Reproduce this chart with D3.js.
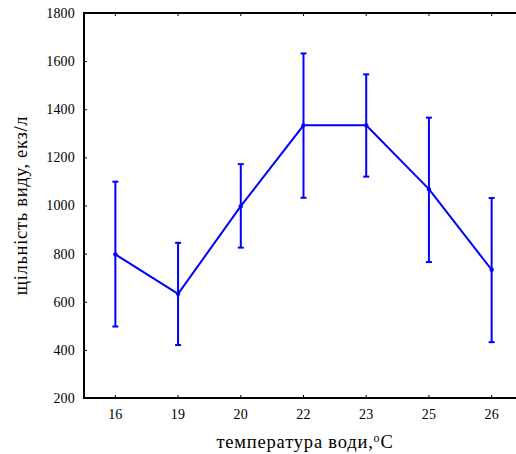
<!DOCTYPE html>
<html><head><meta charset="utf-8">
<script src="https://cdn.jsdelivr.net/npm/d3@7"></script>
<style>body{margin:0;background:#fff;overflow:hidden}svg{display:block}</style>
</head><body>
<script>
const categories = ["16","19","20","22","23","25","26"];
const means = [797, 633, 997, 1333, 1333, 1068, 733];
const upper = [1099, 845, 1172, 1632, 1545, 1365, 1031];
const lower = [497, 420, 825, 1032, 1120, 765, 432];
const yTicks = [200,400,600,800,1000,1200,1400,1600,1800];

const W=516,H=454;
const L=84,T=13,B=398,R=523;
const svg=d3.select("body").append("svg").attr("width",W).attr("height",H);
const x=d3.scaleBand().domain(categories).range([L,R]);
const y=d3.scaleLinear().domain([200,1800]).range([B,T]);
const cx=d=>x(d)+x.bandwidth()/2;
const font="Liberation Serif, Times New Roman, serif";

// axes
const gy=svg.append("g").attr("transform",`translate(${L},0)`)
 .call(d3.axisLeft(y).tickValues(yTicks).tickSize(-3).tickPadding(9).tickFormat(d3.format("d")));
const gx=svg.append("g").attr("transform",`translate(0,${B})`)
 .call(d3.axisBottom(x).tickSize(-3).tickPadding(11));
const gt=svg.append("g").attr("transform",`translate(0,${T})`)
 .call(d3.axisTop(x).tickSize(-3).tickFormat(""));
[gy,gx,gt].forEach(g=>{
 g.select(".domain").remove();
 g.selectAll("line").attr("stroke","#000").attr("stroke-width",1);
 g.selectAll("text").attr("font-family",font).attr("font-size",14).attr("letter-spacing",0.2).attr("fill","#000");
});
svg.append("path").attr("d",`M${R},${T}H${L}V${B}H${R}`).attr("fill","none").attr("stroke","#000").attr("stroke-width",2);

const idx=d3.range(categories.length);
const blue="#0000ff";
// error bars
const eb=svg.append("g").attr("stroke",blue).attr("stroke-width",2);
eb.selectAll("line.v").data(idx).join("line").attr("x1",i=>cx(categories[i])).attr("x2",i=>cx(categories[i]))
 .attr("y1",i=>y(upper[i])).attr("y2",i=>y(lower[i]));
eb.selectAll("line.u").data(idx).join("line").attr("x1",i=>cx(categories[i])-3).attr("x2",i=>cx(categories[i])+3)
 .attr("y1",i=>y(upper[i])).attr("y2",i=>y(upper[i]));
eb.selectAll("line.l").data(idx).join("line").attr("x1",i=>cx(categories[i])-3).attr("x2",i=>cx(categories[i])+3)
 .attr("y1",i=>y(lower[i])).attr("y2",i=>y(lower[i]));
// line
svg.append("path").datum(idx).attr("fill","none").attr("stroke",blue).attr("stroke-width",2)
 .attr("d",d3.line().x(i=>cx(categories[i])).y(i=>y(means[i])));
svg.selectAll("circle.p").data(idx).join("circle").attr("cx",i=>cx(categories[i])).attr("cy",i=>y(means[i])).attr("r",2.2).attr("fill",blue);

// titles
const xt=svg.append("text").attr("x",305).attr("y",448).attr("text-anchor","middle")
 .attr("font-family",font).attr("font-size",18.5).attr("letter-spacing",0.8).attr("fill","#000");
xt.append("tspan").text("температура води,");
xt.append("tspan").attr("dy",-6).attr("font-size",12).text("o");
xt.append("tspan").attr("dy",6).text("C");
svg.append("text").attr("transform",`translate(27,${(T+B)/2}) rotate(-90)`).attr("text-anchor","middle")
 .attr("font-family",font).attr("font-size",18.5).attr("letter-spacing",0.7).attr("fill","#000").text("щільність виду, екз/л");
</script>
</body></html>
